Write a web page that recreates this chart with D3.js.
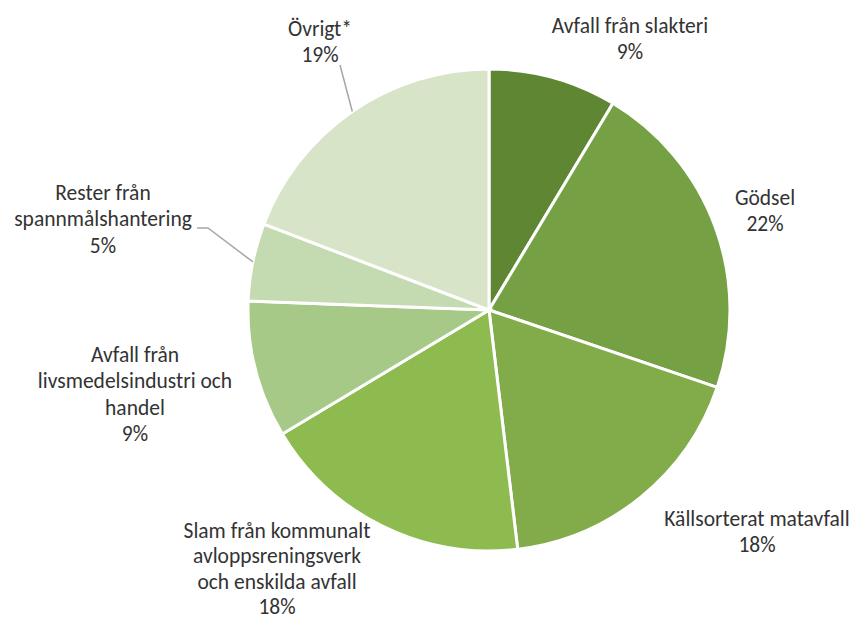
<!DOCTYPE html>
<html>
<head>
<meta charset="utf-8">
<script src="https://cdn.jsdelivr.net/npm/d3@7"></script>
<style>
  html, body { margin: 0; padding: 0; background: #ffffff; }
  svg { display: block; }
</style>
</head>
<body>
<svg id="chart" width="857" height="621"></svg>
<script>
// ---- data ----
const categories = [
  "Avfall från slakteri",
  "Gödsel",
  "Källsorterat matavfall",
  "Slam från kommunalt avloppsreningsverk och enskilda avfall",
  "Avfall från livsmedelsindustri och handel",
  "Rester från spannmålshantering",
  "Övrigt*"
];
const labelLines = [
  ["Avfall från slakteri"],
  ["Gödsel"],
  ["Källsorterat matavfall"],
  ["Slam från kommunalt", "avloppsreningsverk", "och enskilda avfall"],
  ["Avfall från", "livsmedelsindustri och", "handel"],
  ["Rester från", "spannmålshantering"],
  ["Övrigt*"]
];
const values = [8.6, 21.6, 17.9, 18.3, 9.2, 5.2, 19.2];
const colors = ["#5f8733", "#76a044", "#82ac4a", "#8dbb50", "#a7c987", "#c4dab0", "#d7e4c7"];

// ---- layout ----
const cx = 489, cy = 310, R = 241;
const lineH = 26.5;
// label block centers (x, first-line center y)
const labelPos = [
  [630, 25], [765, 197], [757, 518], [277, 530], [135, 354], [103, 192], [320, 28]
];
const slamLineH = 25.5;
// slices that use a leader line: index -> path points near label
const leaders = {
  5: [[197, 228], [208, 228]],
  6: [[340, 65]]
};

const svg = d3.select("#chart");
const g = svg.append("g").attr("transform", `translate(${cx},${cy})`);

const pie = d3.pie().sort(null).value(d => d)(values);
const arc = d3.arc().innerRadius(0).outerRadius(R);

g.selectAll("path.slice")
  .data(pie)
  .join("path")
  .attr("class", "slice")
  .attr("d", arc)
  .attr("fill", (d, i) => colors[i])
  .attr("stroke", "#ffffff")
  .attr("stroke-width", 3)
  .attr("stroke-linejoin", "miter");

// leader lines
const edgeArc = d3.arc().innerRadius(R).outerRadius(R);
Object.keys(leaders).forEach(k => {
  const i = +k;
  const [ex, ey] = edgeArc.centroid(pie[i]);
  const pts = [[ex + cx, ey + cy]].concat(leaders[i].slice().reverse());
  svg.append("path")
    .attr("d", d3.line()(pts))
    .attr("fill", "none")
    .attr("stroke", "#a6a6a6")
    .attr("stroke-width", 1.5);
});

// labels
const font = "Carlito, Lato, 'Liberation Sans', sans-serif";
pie.forEach((d, i) => {
  const lines = labelLines[i].concat([Math.round(values[i]) + "%"]);
  const [lx, ly] = labelPos[i];
  const lh = i === 3 ? slamLineH : lineH;
  const t = svg.append("text")
    .attr("text-anchor", "middle")
    .attr("font-family", font)
    .attr("font-size", 21.5)
    .attr("fill", "#333333");
  lines.forEach((s, j) => {
    t.append("tspan")
      .attr("x", lx)
      .attr("y", ly + j * lh)
      .attr("dy", "0.35em")
      .text(s);
  });
});
</script>
</body>
</html>
